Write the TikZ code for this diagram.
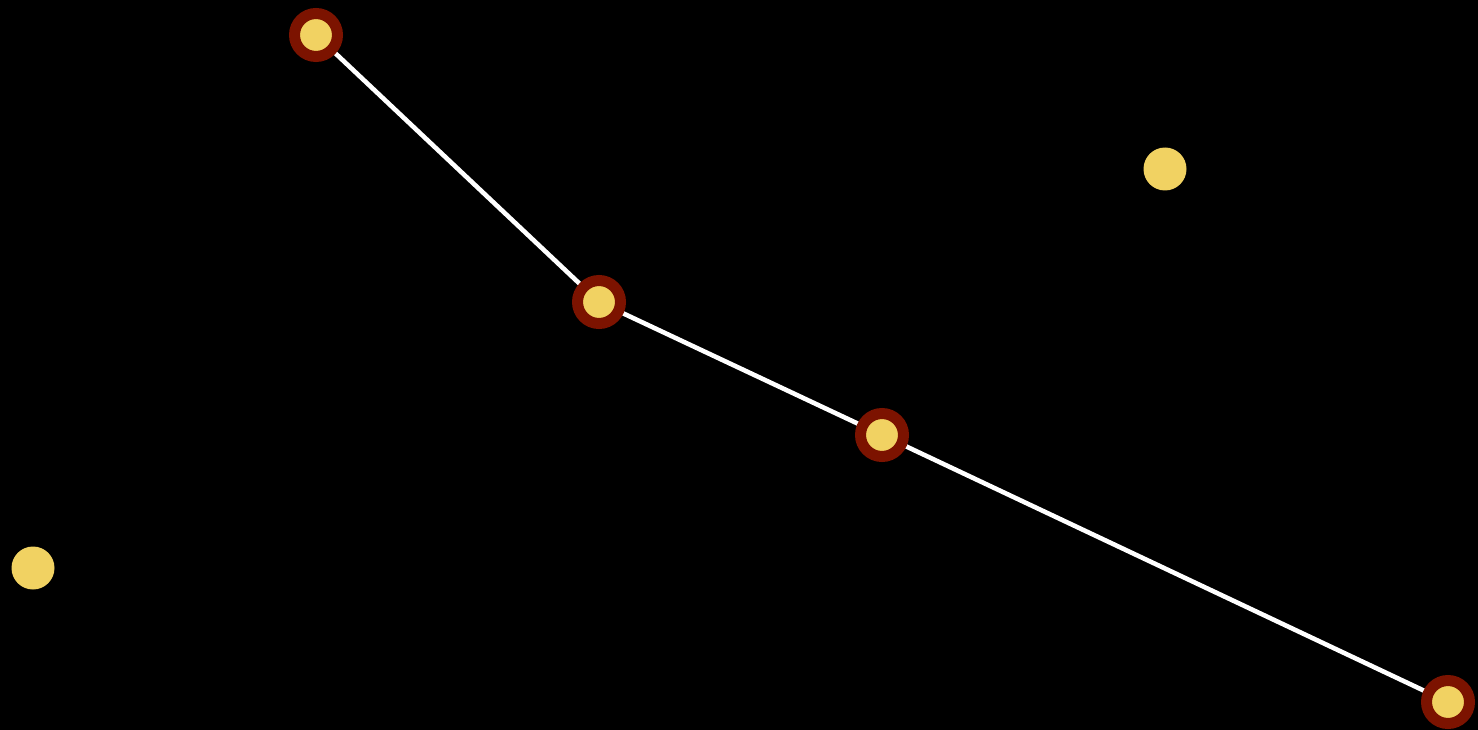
\documentclass[tikz,border=0pt]{standalone}
\definecolor{ringred}{HTML}{7C1300}
\definecolor{dotyellow}{HTML}{F1D262}
\tikzset{
  ringnode/.style={circle, inner sep=0pt, minimum size=43pt, fill=dotyellow, draw=ringred, line width=11pt},
  plainnode/.style={circle, inner sep=0pt, minimum size=43pt, fill=dotyellow},
  link/.style={draw=white, line width=4.6pt}
}
\begin{document}
\begin{tikzpicture}[x=1pt,y=-1pt]
\fill[black] (0,0) rectangle (1478,730);
\useasboundingbox (0,0) rectangle (1478,730);
\coordinate (pa) at (316,35);
\coordinate (pb) at (599,302);
\coordinate (pc) at (882,435);
\coordinate (pd) at (1448,702);
\draw[link] (pa) -- (pb) -- (pc) -- (pd);
\node[ringnode] (a) at (pa) {};
\node[ringnode] (b) at (pb) {};
\node[ringnode] (c) at (pc) {};
\node[ringnode] (d) at (pd) {};
\node[plainnode] (e) at (1165,169) {};
\node[plainnode] (f) at (33,568) {};
\end{tikzpicture}
\end{document}
